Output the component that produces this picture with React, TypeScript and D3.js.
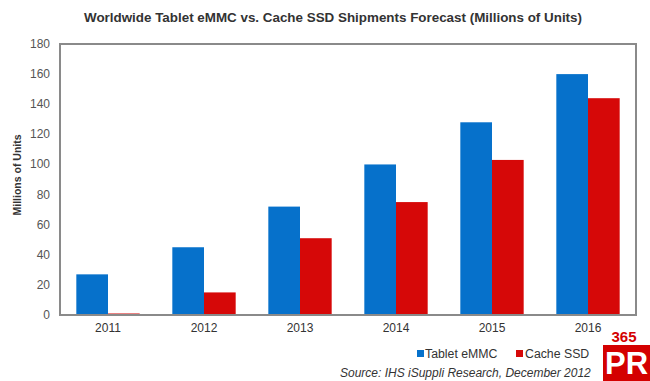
import React from "react";
import * as d3 from "d3";

const categories = ["2011", "2012", "2013", "2014", "2015", "2016"];
const seriesNames = ["Tablet eMMC", "Cache SSD"];
const tabletEmmc = [27, 45, 72, 100, 128, 160];
const cacheSsd = [1, 15, 51, 75, 103, 144];
const yTicks = [0, 20, 40, 60, 80, 100, 120, 140, 160, 180];
const colors = ["#0671cb", "#d60808"];

const W = 650;
const H = 381;
const left = 60;
const right = 636;
const top = 44;
const bottom = 315;
const font = "'Liberation Sans', Arial, sans-serif";

export default function App() {
  const x = d3
    .scaleBand<string>()
    .domain(categories)
    .range([left, right])
    .paddingInner(0.34)
    .paddingOuter(0.17);
  const xs = d3
    .scaleBand<string>()
    .domain(seriesNames)
    .range([0, x.bandwidth()]);
  const y = d3.scaleLinear().domain([0, 180]).range([bottom, top]);
  const series = [tabletEmmc, cacheSsd];

  return (
    <svg
      width={W}
      height={H}
      style={{ position: "absolute", left: 0, top: 0, background: "#fff" }}
      fontFamily={font}
    >
      <text
        x={333}
        y={22}
        textAnchor="middle"
        fontSize={13.4}
        fontWeight="bold"
        fill="#333"
      >
        Worldwide Tablet eMMC vs. Cache SSD Shipments Forecast (Millions of Units)
      </text>

      {series.map((vals, si) =>
        categories.map((c, i) => (
          <rect
            key={`${si}-${c}`}
            x={(x(c) ?? 0) + (xs(seriesNames[si]) ?? 0)}
            y={y(vals[i])}
            width={xs.bandwidth()}
            height={bottom - y(vals[i])}
            fill={colors[si]}
          />
        ))
      )}

      <rect
        x={left}
        y={top}
        width={right - left}
        height={bottom - top}
        fill="none"
        stroke="#8a8a8a"
        strokeWidth={2}
      />

      {yTicks.map((t) => (
        <text
          key={t}
          x={50}
          y={y(t) + 4}
          textAnchor="end"
          fontSize={12}
          fill="#555"
        >
          {t}
        </text>
      ))}

      <text
        transform={`translate(21,175) rotate(-90)`}
        textAnchor="middle"
        fontSize={10.5}
        fontWeight="bold"
        fill="#333"
      >
        Millions of Units
      </text>

      {categories.map((c) => (
        <text
          key={c}
          x={(x(c) ?? 0) + x.bandwidth() / 2}
          y={332}
          textAnchor="middle"
          fontSize={12}
          fill="#333"
        >
          {c}
        </text>
      ))}

      <rect x={417} y={350} width={7} height={7} fill={colors[0]} />
      <text x={425} y={358} fontSize={12.3} fill="#333">
        {seriesNames[0]}
      </text>
      <rect x={516} y={350} width={7} height={7} fill={colors[1]} />
      <text x={525} y={358} fontSize={12.3} fill="#333">
        {seriesNames[1]}
      </text>

      <text x={340} y={377} fontSize={12} fontStyle="italic" fill="#333">
        Source: IHS iSuppli Research, December 2012
      </text>

      <rect x={603} y={345} width={47} height={36} fill="#d40000" />
      <text
        x={624}
        y={342}
        textAnchor="middle"
        fontSize={15}
        fontWeight="bold"
        fill="#d40000"
      >
        365
      </text>
      <text
        x={605}
        y={374}
        fontSize={32}
        fontWeight="bold"
        fill="#fff"
        textLength={43}
        lengthAdjust="spacingAndGlyphs"
      >
        PR
      </text>
    </svg>
  );
}
